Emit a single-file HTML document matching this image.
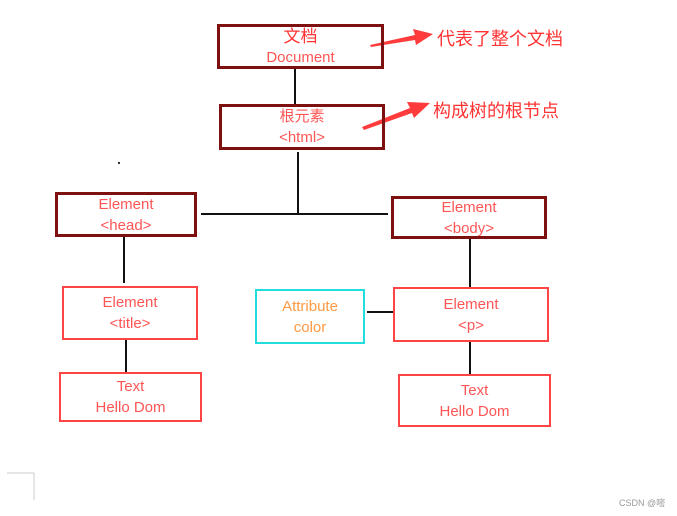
<!DOCTYPE html>
<html><head><meta charset="utf-8"><style>
body{margin:0;width:677px;height:516px;background:#fff;position:relative;overflow:hidden;font-family:"Liberation Sans","Noto Sans CJK SC",sans-serif}
.b{position:absolute;box-sizing:border-box;display:flex;flex-direction:column;align-items:center;justify-content:center;color:#ff5555;font-size:15px;line-height:21px;text-align:center}
.d{border:3px solid #7f1010}
.r{border:2.5px solid #ff4444}
.c{border:2.5px solid #22dddd;color:#ff9944}
.t{position:absolute;color:#ff3333;font-size:18px;white-space:nowrap}
</style></head><body>
<svg width="677" height="516" style="position:absolute;left:0;top:0">
<g stroke="#111" stroke-width="2">
<line x1="295" y1="68" x2="295" y2="104"/>
<line x1="298" y1="152" x2="298" y2="213"/>
<line x1="201" y1="214" x2="388" y2="214"/>
<line x1="124" y1="236" x2="124" y2="283"/>
<line x1="126" y1="340" x2="126" y2="372"/>
<line x1="470" y1="238" x2="470" y2="287"/>
<line x1="367" y1="312" x2="393" y2="312"/>
<line x1="470" y1="341" x2="470" y2="374"/>
</g>
<polygon points="370,45 415,35 413,29 433,34 416,45 415,40 371,47" fill="#ff3b3b"/>
<polygon points="362,127 410,108 407,102 430,103 414,118 412,113 364,130" fill="#ff3b3b"/>
<line x1="7" y1="473" x2="34" y2="473" stroke="#ccc"/>
<line x1="34" y1="473" x2="34" y2="500" stroke="#ccc"/>
<rect x="118" y="162" width="2" height="2" fill="#333"/>
</svg>
<div class="b d" style="left:217px;top:24px;width:167px;height:45px"><span style="font-size:17px;color:#ff3333">文档</span><span>Document</span></div>
<div class="b d" style="left:219px;top:104px;width:166px;height:46px"><span>根元素</span><span>&lt;html&gt;</span></div>
<div class="b d" style="left:55px;top:192px;width:142px;height:45px"><span>Element</span><span>&lt;head&gt;</span></div>
<div class="b d" style="left:391px;top:196px;width:156px;height:43px"><span>Element</span><span>&lt;body&gt;</span></div>
<div class="b r" style="left:62px;top:286px;width:136px;height:54px"><span>Element</span><span>&lt;title&gt;</span></div>
<div class="b c" style="left:255px;top:289px;width:110px;height:55px"><span>Attribute</span><span>color</span></div>
<div class="b r" style="left:393px;top:287px;width:156px;height:55px"><span>Element</span><span>&lt;p&gt;</span></div>
<div class="b r" style="left:59px;top:372px;width:143px;height:50px"><span>Text</span><span>Hello Dom</span></div>
<div class="b r" style="left:398px;top:374px;width:153px;height:53px"><span>Text</span><span>Hello Dom</span></div>
<div class="t" style="left:437px;top:25px">代表了整个文档</div>
<div class="t" style="left:433px;top:97px">构成树的根节点</div>
<div style="position:absolute;left:619px;top:496px;font-size:9px;color:#999">CSDN @嘧</div>
</body></html>
